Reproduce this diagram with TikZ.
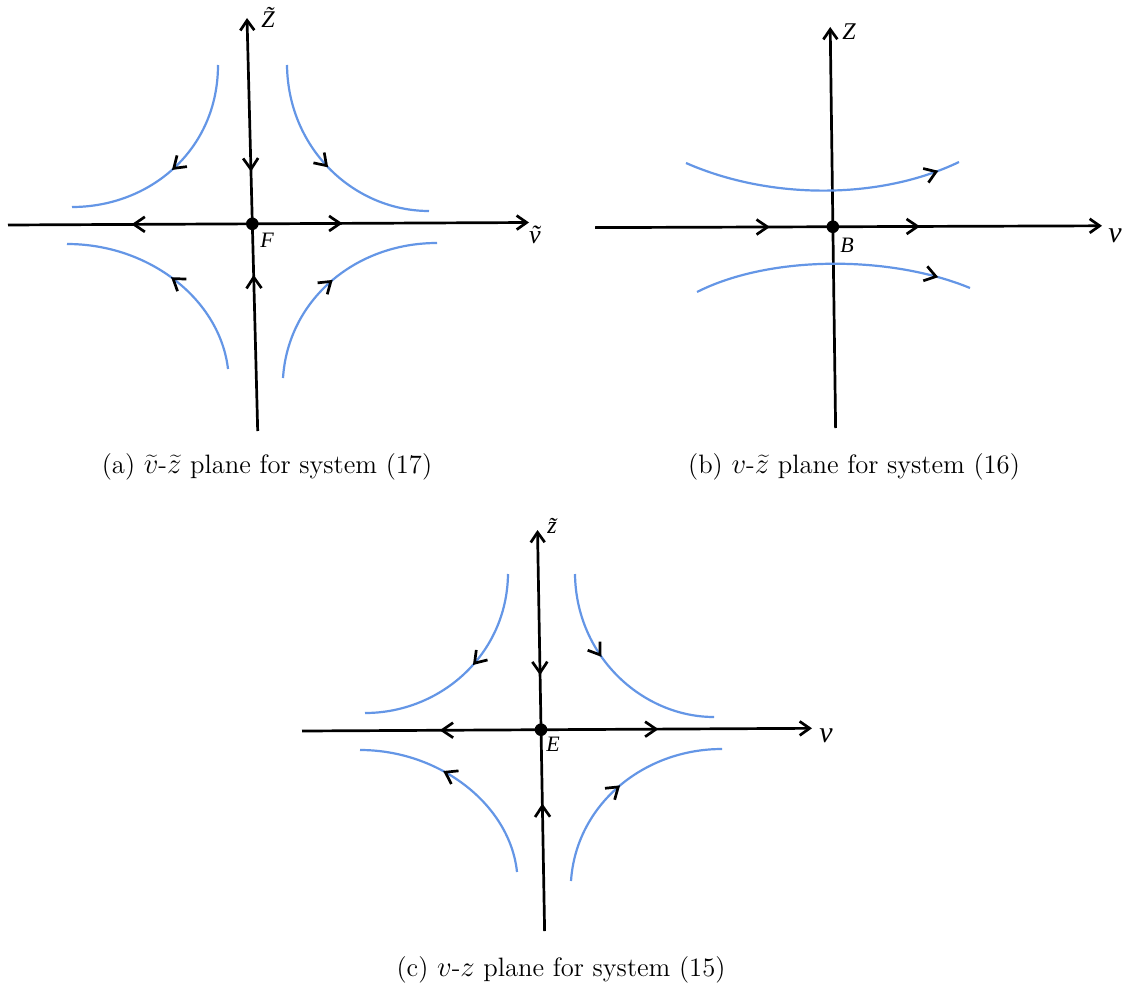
\documentclass[tikz,border=0pt]{standalone}
\usepackage{fontspec}
\newfontfamily\tnr{Liberation Serif}
\usetikzlibrary{arrows.meta,decorations.markings}
\definecolor{curveblue}{RGB}{100,150,230}
\tikzset{
  >={Straight Barb[length=5pt,width=7pt]},
  axisline/.style={line width=1.35pt,->},
  flowline/.style={curveblue,line width=1.1pt},
  fwd/.style={postaction={decorate,decoration={markings,mark=at position #1 with {\arrow[black,line width=1.35pt]{Straight Barb[length=5.5pt,width=7.5pt]}}}}},
  bwd/.style={postaction={decorate,decoration={markings,mark=at position #1 with {\arrowreversed[black,line width=1.35pt]{Straight Barb[length=5.5pt,width=7.5pt]}}}}},
  eqdot/.style={circle,fill=black,inner sep=0pt,minimum size=6.3pt},
  axlbl/.style={inner sep=0pt},
  captext/.style={inner sep=0pt,font=\fontsize{13.3}{16}\selectfont},
}
\begin{document}
\begin{tikzpicture}[x=0.5pt,y=-0.5pt]
\useasboundingbox[fill=white] (0,0) rectangle (1129,990);

% ---------- (a) ----------
\coordinate (aL) at (8,225);
\coordinate (aR) at (529,222.5);
\coordinate (aB) at (257.7,431);
\coordinate (aT) at (247,18);
\coordinate (aO) at (intersection of aL--aR and aB--aT);
\draw[axisline,fwd=0.642,bwd=0.237] (aL) -- (aR);
\draw[axisline,fwd=0.378,bwd=0.628] (aB) -- (aT);
\node[eqdot] (F0) at (aO) {};
\node[axlbl,font=\tnr\itshape\fontsize{11}{13}\selectfont] (Flab) at (267,240) {F};
\node[axlbl,font=\tnr\itshape\fontsize{12}{14}\selectfont] (aZ) at (268,17) {\~{Z}};
\node[axlbl,font=\tnr\itshape\fontsize{13}{15}\selectfont] (av) at (535,235) {\~{v}};
\draw[flowline,fwd=0.52] (218,65) .. controls (218,150) and (150,207) .. (72,207);
\draw[flowline,fwd=0.5] (287,65) .. controls (288,150) and (355,211) .. (429,211);
\draw[flowline,fwd=0.5] (228,369) .. controls (220,300) and (150,244) .. (67,244);
\draw[flowline,fwd=0.5] (283,378) .. controls (288,300) and (355,243) .. (437,243);
\node[captext] (capa) at (267,467) {(a) $\widetilde{v}$-$\widetilde{z}$ plane for system (17)};

% ---------- (b) ----------
\coordinate (bL) at (595,227.6);
\coordinate (bR) at (1102,225.8);
\coordinate (bB) at (835.6,428);
\coordinate (bT) at (830.2,27);
\coordinate (bO) at (intersection of bL--bR and bB--bT);
\draw[axisline,fwd=0.345,fwd=0.641] (bL) -- (bR);
\draw[axisline] (bB) -- (bT);
\node[eqdot] (B0) at (bO) {};
\node[axlbl,font=\tnr\itshape\fontsize{11}{13}\selectfont] (Blab) at (847,245) {B};
\node[axlbl,font=\tnr\itshape\fontsize{12}{14}\selectfont] (bZ) at (849,32) {Z};
\node[axlbl,font=\tnr\itshape\fontsize{15}{17}\selectfont] (bv) at (1115,236) {v};
\draw[flowline,fwd=0.92] (686,163) .. controls (770,200) and (880,200) .. (959,162);
\draw[flowline,fwd=0.88] (697,292) .. controls (770,255) and (890,255) .. (970,288);
\node[captext] (capb) at (854,467) {(b) $v$-$\widetilde{z}$ plane for system (16)};

% ---------- (c) ----------
\coordinate (cL) at (302,731);
\coordinate (cR) at (812,728.3);
\coordinate (cB) at (544.6,931);
\coordinate (cT) at (537.5,530);
\coordinate (cO) at (intersection of cL--cR and cB--cT);
\draw[axisline,fwd=0.699,bwd=0.27] (cL) -- (cR);
\draw[axisline,fwd=0.318,bwd=0.638] (cB) -- (cT);
\node[eqdot] (E0) at (cO) {};
\node[axlbl,font=\tnr\itshape\fontsize{11}{13}\selectfont] (Elab) at (553,744) {E};
\node[axlbl,font=\tnr\itshape\fontsize{12}{14}\selectfont] (cz) at (552,526) {\~{z}};
\node[axlbl,font=\tnr\itshape\fontsize{15}{17}\selectfont] (cv) at (826,736) {v};
\draw[flowline,fwd=0.45] (508,574) .. controls (507,655) and (440,713) .. (365,713);
\draw[flowline,fwd=0.4] (575,574) .. controls (576,657) and (643,717) .. (714,717);
\draw[flowline,fwd=0.6] (517,872) .. controls (510,805) and (440,750) .. (360,750);
\draw[flowline,fwd=0.5] (571,881) .. controls (576,805) and (643,749) .. (722,749);
\node[captext] (capc) at (561,970) {(c) $v$-$z$ plane for system (15)};
\end{tikzpicture}
\end{document}
